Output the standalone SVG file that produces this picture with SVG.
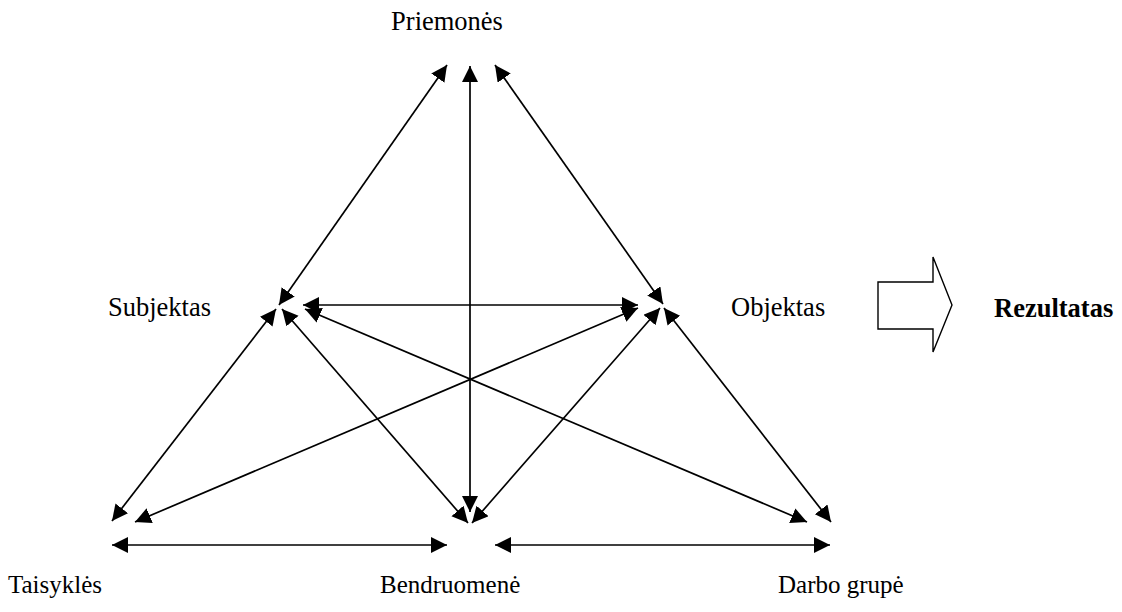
<svg xmlns="http://www.w3.org/2000/svg" width="1122" height="612" viewBox="0 0 1122 612">
  <style>
    .lbl { font-family: "Liberation Serif", "Times New Roman", serif; font-size: 26.5px; fill: #000; }
    .low { font-size: 25px; }
    .bold { font-weight: bold; }
    .link { stroke: #000; stroke-width: 1.7; fill: none; marker-start: url(#head); marker-end: url(#head); }
  </style>
  <defs>
    <marker id="head" markerUnits="userSpaceOnUse" markerWidth="18" markerHeight="18" refX="16" refY="8" orient="auto-start-reverse">
      <path d="M0,0 L16,8 L0,16 Z" fill="#000"/>
    </marker>
  </defs>
  <rect width="1122" height="612" fill="#fff"/>

  <!-- double-headed connectors -->
  <g id="connectors">
    <line class="link" x1="447" y1="65" x2="279" y2="305"/>
    <line class="link" x1="470" y1="66" x2="470" y2="512"/>
    <line class="link" x1="495" y1="65" x2="663" y2="304"/>
    <line class="link" x1="303" y1="305" x2="638" y2="305"/>
    <line class="link" x1="276" y1="309" x2="112" y2="521"/>
    <line class="link" x1="282" y1="309" x2="468" y2="523"/>
    <line class="link" x1="660" y1="308" x2="472" y2="523"/>
    <line class="link" x1="664" y1="308" x2="831" y2="522"/>
    <line class="link" x1="305" y1="309" x2="807" y2="522"/>
    <line class="link" x1="638" y1="308" x2="135" y2="522"/>
    <line class="link" x1="112" y1="545" x2="447" y2="545"/>
    <line class="link" x1="495" y1="545" x2="830" y2="545"/>
  </g>

  <g id="priemones"><text class="lbl" x="447" y="30" text-anchor="middle">Priemonės</text></g>
  <g id="subjektas"><text class="lbl" x="108" y="316">Subjektas</text></g>
  <g id="objektas"><text class="lbl" x="731" y="316">Objektas</text></g>
  <g id="taisykles"><text class="lbl low" x="8" y="593">Taisyklės</text></g>
  <g id="bendruomene"><text class="lbl low" x="380" y="593">Bendruomenė</text></g>
  <g id="darbo-grupe"><text class="lbl low" x="778" y="593">Darbo grupė</text></g>

  <!-- hollow block arrow leading to the result -->
  <g id="block-arrow">
    <polygon points="878,282 933,282 933,257 952,305 933,352 933,329 878,329" fill="#fff" stroke="#000" stroke-width="1.4"/>
  </g>
  <g id="rezultatas"><text class="lbl bold" x="994" y="317">Rezultatas</text></g>
</svg>
